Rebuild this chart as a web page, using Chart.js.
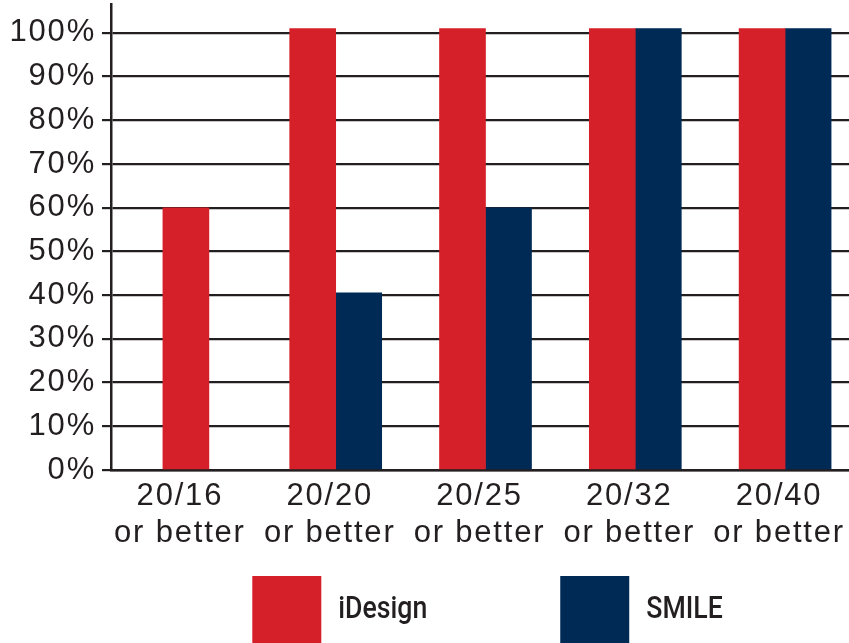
<!DOCTYPE html>
<html>
<head>
<meta charset="utf-8">
<script src="https://cdn.jsdelivr.net/npm/chart.js@4"></script>
<style>
  html, body { margin: 0; padding: 0; background: #fff; overflow: hidden; }
  canvas { display: block; }
</style>
</head>
<body>
<!-- the original plot runs a little past the right edge of the picture -->
<canvas id="acuityChart" width="860" height="643"></canvas>
<script>
// data
const categories = [
    ['20/16', 'or better'],
    ['20/20', 'or better'],
    ['20/25', 'or better'],
    ['20/32', 'or better'],
    ['20/40', 'or better']
];
const iDesignValues = [60, 101, 101, 101, 101];
const smileValues = [null, 40.5, 60, 101, 101];
const seriesNames = ['iDesign', 'SMILE'];
const seriesColors = ['#d52029', '#002a56'];
const yTickStep = 10;

const inkColor = '#231f20';

// tracking for the Helvetica-ish axis text
const letterSpacingPlugin = {
    id: 'letterSpacing',
    beforeLayout(chart) { chart.ctx.letterSpacing = '1.8px'; },
    beforeDraw(chart) { chart.ctx.letterSpacing = '1.8px'; }
};

// legend drawn by hand so the boxes and gaps look like the original
const bottomLegend = {
    id: 'bottomLegend',
    afterDraw(chart) {
        const ctx = chart.ctx;
        const area = chart.chartArea;
        const box = 69, textGap = 17, itemGap = 133, squeeze = 0.86;
        ctx.save();
        ctx.letterSpacing = '0px';
        ctx.font = '500 31px Roboto, "Liberation Sans", sans-serif';
        const widths = seriesNames.map(n => ctx.measureText(n).width * squeeze);
        let total = 0;
        widths.forEach((w, i) => { total += box + textGap + w + (i ? itemGap : 0); });
        let x = (area.left + area.right) / 2 - total / 2 + 2;
        const top = chart.height - 67;
        ctx.textBaseline = 'middle';
        ctx.textAlign = 'left';
        seriesNames.forEach((name, i) => {
            ctx.fillStyle = seriesColors[i];
            ctx.fillRect(x, top, box, box);
            ctx.save();
            ctx.translate(x + box + textGap, top + 34);
            ctx.scale(squeeze, 1);
            ctx.fillStyle = inkColor;
            ctx.fillText(name, 0, 0);
            ctx.restore();
            x += box + textGap + widths[i] + itemGap;
        });
        ctx.restore();
    }
};

const ctx = document.getElementById('acuityChart').getContext('2d');

const myChart = new Chart(ctx, {
    type: 'bar',
    data: {
        labels: categories,
        datasets: [{
            label: seriesNames[0],
            data: iDesignValues,
            backgroundColor: seriesColors[0]
        }, {
            label: seriesNames[1],
            data: smileValues,
            backgroundColor: seriesColors[1]
        }]
    },
    options: {
        responsive: false,
        animation: false,
        skipNull: true, // 20/16 has no SMILE bar, keep the red one centred
        barThickness: 46,
        layout: {
            padding: { top: 4, right: 0, bottom: 73, left: 0 }
        },
        plugins: {
            legend: { display: false },
            tooltip: { enabled: false }
        },
        scales: {
            x: {
                grid: { display: false },
                border: { display: true, color: inkColor, width: 2.5 },
                ticks: {
                    color: inkColor,
                    padding: 0,
                    labelOffset: -6, // labels sit a bit left of the bar pairs in the original
                    font: { family: '"Liberation Sans", Arial, sans-serif', size: 31, lineHeight: 1.2 },
                    maxRotation: 0,
                    autoSkip: false
                },
                afterFit: s => {
                    s.height = 100;
                    s.paddingLeft = 0;
                    s.paddingRight = 0;
                }
            },
            y: {
                min: 0,
                max: 106.6,
                grid: {
                    color: inkColor,
                    lineWidth: 2.2,
                    tickLength: 9
                },
                border: { display: true, color: inkColor, width: 2.5 },
                ticks: {
                    stepSize: yTickStep,
                    includeBounds: false,
                    color: inkColor,
                    padding: 6,
                    font: { family: '"Liberation Sans", Arial, sans-serif', size: 31 },
                    callback: v => v + '%'
                },
                afterFit: s => {
                    s.width = 111;
                    s.paddingTop = 0;
                    s.paddingBottom = 0;
                }
            }
        }
    },
    plugins: [letterSpacingPlugin, bottomLegend]
});
</script>
</body>
</html>
